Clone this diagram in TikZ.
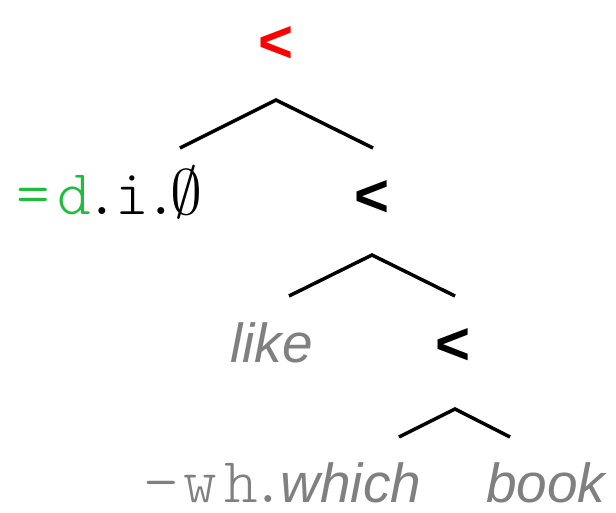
\documentclass[tikz,border=0pt]{standalone}
\usepackage{fontspec}
\setsansfont{Liberation Sans}
\newfontfamily\monolight{Latin Modern Mono Light}
\definecolor{lblgreen}{RGB}{30,190,60}
\definecolor{lblgray}{RGB}{128,128,128}
\begin{document}
\begin{tikzpicture}[x=1pt,y=-1pt,
  branch/.style={line width=3.5pt,line cap=butt,line join=miter},
  op/.style={font=\fontsize{60}{66}\selectfont\sffamily\bfseries,inner sep=0pt,anchor=base},
  word/.style={font=\fontsize{55}{60}\selectfont\sffamily\itshape,text=lblgray,inner sep=0pt,anchor=base west},
  mono/.style={font=\fontsize{64}{70}\selectfont\monolight,inner sep=0pt,anchor=base west}]
\useasboundingbox (0,0) rectangle (616,512);
% labels
\node[op,text=red] (root) at (276,62) {<};
\node[mono] (dio) at (12,214) {\kern4.7pt\textcolor{lblgreen}{=\kern7.4pt d}\kern-5.6pt.\kern-4.1pt i\kern-4.6pt.\kern-7.8pt\scalebox{6.4}{\fontsize{10}{12}\selectfont$\emptyset$}};
\node[op] (n2) at (372,216) {<};
\node[word] (like) at (230,362) {like};
\node[op] (n3) at (453,364) {<};
\node[mono,text=lblgray] (wh) at (140,502) {\kern4.2pt−\kern5.9pt w\kern6.9pt h\kern-6.6pt.\kern-4.8pt};
\node[word] (which) at (wh.base east) {which};
\node[word] (book) at (486,502) {book};
% branch points
\coordinate (a1) at (276,100);
\coordinate (l1) at (180,148);
\coordinate (r1) at (373,148);
\coordinate (a2) at (372,255);
\coordinate (l2) at (289,296);
\coordinate (r2) at (455,296);
\coordinate (a3) at (455,409);
\coordinate (l3) at (399,437);
\coordinate (r3) at (510,437);
\draw[branch] (l1) -- (a1) -- (r1);
\draw[branch] (l2) -- (a2) -- (r2);
\draw[branch] (l3) -- (a3) -- (r3);
\end{tikzpicture}
\end{document}
